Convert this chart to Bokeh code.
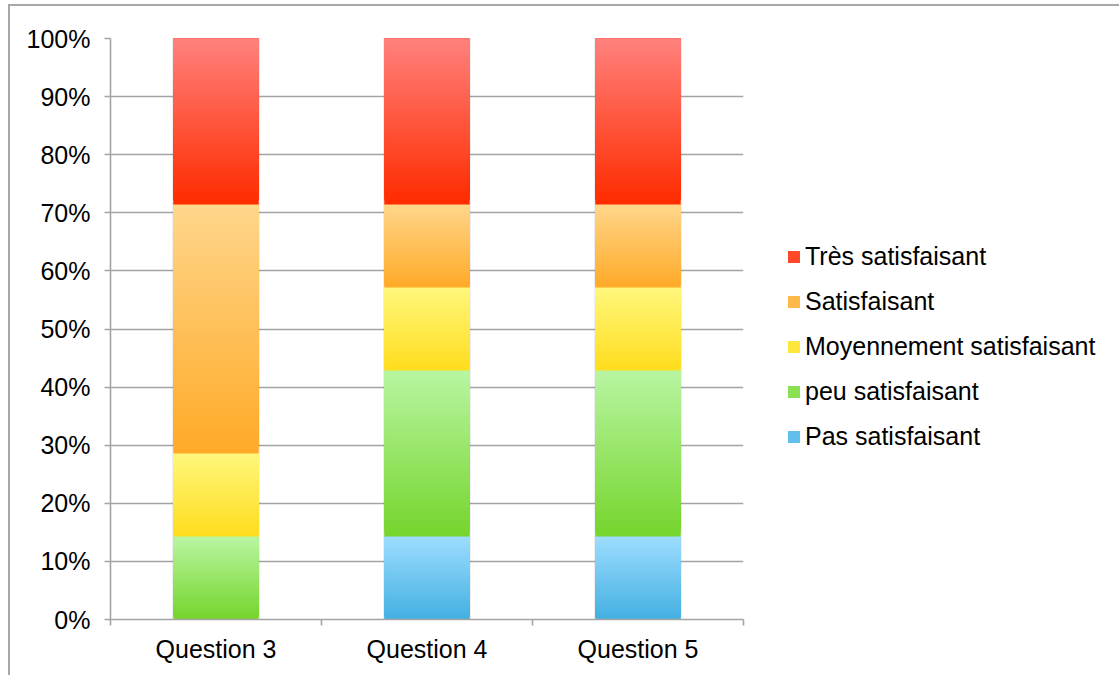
from bokeh.plotting import figure
from bokeh.models import ColumnDataSource, Legend, LegendItem, FixedTicker, Range1d
from bokeh.embed import file_html
from bokeh.resources import INLINE

# ---- data ----
categories = ["Question 3", "Question 4", "Question 5"]
series = ["Pas satisfaisant", "peu satisfaisant", "Moyennement satisfaisant",
          "Satisfaisant", "Très satisfaisant"]
pas_satisfaisant = [0.0, 14.29, 14.29]
peu_satisfaisant = [14.29, 28.57, 28.57]
moyennement_satisfaisant = [14.29, 14.29, 14.29]
satisfaisant = [42.86, 14.29, 14.29]
tres_satisfaisant = [28.56, 28.56, 28.56]
y_ticks = [0, 10, 20, 30, 40, 50, 60, 70, 80, 90, 100]

values = [pas_satisfaisant, peu_satisfaisant, moyennement_satisfaisant,
          satisfaisant, tres_satisfaisant]
# gradient colours (top, bottom) for each series
top_colors = ["#9cdcff", "#b8f5a0", "#fff77c", "#ffd68a", "#ff807b"]
bottom_colors = ["#44b0e2", "#76d52e", "#ffdd1e", "#ffaa28", "#ff2c00"]

FONT = "Liberation Sans"
FS = "25px"
GRAY = "#a4a4a4"
N = 40
BAR_W = 0.405


def hex2rgb(h):
    h = h.lstrip("#")
    return tuple(int(h[i:i + 2], 16) for i in (0, 2, 4))


def mix(c_bottom, c_top, t):
    a, b = hex2rgb(c_bottom), hex2rgb(c_top)
    return "#%02x%02x%02x" % tuple(round(a[k] + (b[k] - a[k]) * t) for k in range(3))


p = figure(frame_width=633, frame_height=581, output_backend="svg", toolbar_location=None,
           x_range=Range1d(0, len(categories)), y_range=Range1d(0, 100),
           min_border_left=100, min_border_right=24, min_border_top=32,
           min_border_bottom=56)
p.outline_line_color = None
p.styles = {"border-top": "2px solid #a8a8a8", "border-left": "2px solid #a8a8a8",
            "margin-left": "8px", "margin-top": "4px"}

xc = [i + 0.5 for i in range(len(categories))]

# subtle shadow behind bars
totals = [sum(v[i] for v in values) for i in range(len(categories))]
p.vbar(x=xc, bottom=0, top=totals, width=BAR_W + 0.012, fill_color="#000000",
       fill_alpha=0.07, line_color=None)

renderers = []
cum = [0.0] * len(categories)
for s, vals in enumerate(values):
    xs, bs, ts, cs = [], [], [], []
    for i, v in enumerate(vals):
        b0, t0 = cum[i], cum[i] + v
        if v > 0:
            for k in range(N):
                xs.append(xc[i])
                bs.append(b0 + v * k / N)
                ts.append(t0)
                cs.append(mix(bottom_colors[s], top_colors[s], k / (N - 1)))
        cum[i] = t0
    src = ColumnDataSource(dict(x=xs, b=bs, t=ts, c=cs))
    r = p.vbar(x="x", bottom="b", top="t", width=BAR_W, fill_color="c",
               line_color=None, source=src)
    renderers.append(r)

# axes
p.xgrid.grid_line_color = None
p.ygrid.grid_line_color = GRAY
p.ygrid.grid_line_width = 1.6

xa = p.xaxis[0]
xa.ticker = FixedTicker(ticks=xc, minor_ticks=list(range(len(categories) + 1)))
xa.major_label_overrides = {x: c for x, c in zip(xc, categories)}
xa.major_tick_line_color = None
xa.major_tick_out = 6
xa.minor_tick_out = 6
xa.minor_tick_in = 0
xa.minor_tick_line_color = GRAY
xa.minor_tick_line_width = 1.6
xa.axis_line_color = GRAY
xa.axis_line_width = 1.6
xa.major_label_standoff = 9
xa.major_label_text_font = FONT
xa.major_label_text_font_size = FS
xa.major_label_text_color = "#000000"

ya = p.yaxis[0]
ya.ticker = FixedTicker(ticks=y_ticks, minor_ticks=[])
ya.major_label_overrides = {t: f"{t}%" for t in y_ticks}
ya.major_tick_out = 6
ya.major_tick_in = 0
ya.major_tick_line_color = GRAY
ya.major_tick_line_width = 1.6
ya.axis_line_color = GRAY
ya.axis_line_width = 1.6
ya.major_label_standoff = 14
ya.major_label_text_font = FONT
ya.major_label_text_font_size = FS
ya.major_label_text_color = "#000000"

# legend
items = []
for s in reversed(range(len(series))):
    items.append(LegendItem(label=series[s], renderers=[renderers[s]], index=N // 3))
legend = Legend(items=items, location=(43, 168), orientation="vertical",
                border_line_color=None, background_fill_alpha=0, padding=0,
                margin=0, spacing=16, label_height=25, glyph_width=15,
                glyph_height=15, label_standoff=4, label_text_font=FONT,
                label_text_font_size=FS, label_text_color="#000000")
p.add_layout(legend, "right")

open("out.html", "w").write(file_html(p, INLINE))
